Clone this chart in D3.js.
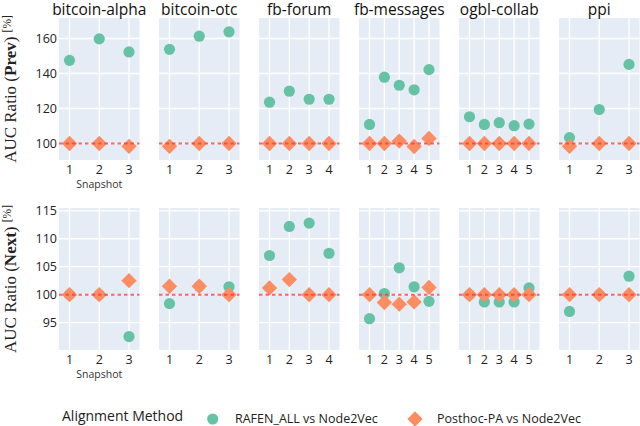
<!DOCTYPE html>
<html><head><meta charset="utf-8">
<script src="https://cdn.jsdelivr.net/npm/d3@7"></script>
<style>body{margin:0;background:#fff}</style></head>
<body><svg id="c" width="640" height="426"></svg>
<script>
const datasets = ["bitcoin-alpha","bitcoin-otc","fb-forum","fb-messages","ogbl-collab","ppi"];
const snapshotCounts = [3,3,4,5,5,3];
const prevRafen = [[147.5,159.8,152.3],[153.8,161.3,163.8],[123.6,129.9,125.3,125.3],[110.9,137.9,133.3,130.7,142.2],[115.3,110.9,111.9,110.2,111.1],[103.4,119.4,145.2]];
const prevPosthoc = [[100,100,98.4],[98.4,100,100],[100,100,100,100],[100,100,101.4,98.3,102.9],[100,100,100,100,100],[98.4,100,100]];
const nextRafen = [[100,100,92.5],[98.4,101.5,101.4],[107.0,112.2,112.8,107.4],[95.7,100.2,104.8,101.4,98.8],[100,98.7,98.7,98.7,101.2],[97.0,100,103.3]];
const nextPosthoc = [[100,100,102.5],[101.5,101.5,100],[101.2,102.7,100,100],[100,98.6,98.3,98.7,101.3],[100,100,100,100,100],[100,100,100]];
const prevTicks = [100,120,140,160];
const nextTicks = [95,100,105,110,115];
const prevDomain = [90.6,171.7];
const nextDomain = [90.1,115.5];
const rowNames = ["Prev","Next"];
const seriesNames = ["RAFEN_ALL vs Node2Vec","Posthoc-PA vs Node2Vec"];
const legendTitle = "Alignment Method";
const xLabel = "Snapshot";

const svg = d3.select("#c");
const SANS = "'Open Sans', sans-serif";
const green = "#66c2a5", orange = "#fc8d62", bg = "#e5ecf6";
const panelW = 80.5, panelH = 142, pitch = 100, left0 = 59;
const rowTops = [18, 208];
const rows = [
  {rafen: prevRafen, posthoc: prevPosthoc, ticks: prevTicks, domain: prevDomain},
  {rafen: nextRafen, posthoc: nextPosthoc, ticks: nextTicks, domain: nextDomain}
];
const diamond = d3.symbol().type(d3.symbolDiamond2).size(150);

rows.forEach((row, ri) => {
  const top = rowTops[ri];
  const y = d3.scaleLinear().domain(row.domain).range([top + panelH, top]);
  datasets.forEach((name, di) => {
    const left = left0 + di * pitch;
    const n = snapshotCounts[di];
    const xs = d3.range(1, n + 1);
    const x = d3.scaleLinear().domain([1, n]).range([left + 10.5, left + panelW - 10.5]);
    const g = svg.append("g");
    g.append("rect").attr("x", left).attr("y", top).attr("width", panelW).attr("height", panelH).attr("fill", bg);
    g.selectAll(".hg").data(row.ticks).join("line")
      .attr("x1", left).attr("x2", left + panelW)
      .attr("y1", d => y(d)).attr("y2", d => y(d))
      .attr("stroke", "#fff").attr("stroke-width", 1.3);
    g.selectAll(".vg").data(xs).join("line")
      .attr("x1", d => x(d)).attr("x2", d => x(d))
      .attr("y1", top).attr("y2", top + panelH)
      .attr("stroke", "#fff").attr("stroke-width", 1.3);
    g.selectAll(".xt").data(xs).join("text")
      .attr("x", d => x(d)).attr("y", top + panelH + 14)
      .attr("text-anchor", "middle").attr("font-family", SANS).attr("font-size", 12.5)
      .attr("fill", "#222").text(d => d);
    if (di === 0) {
      g.selectAll(".yt").data(row.ticks).join("text")
        .attr("x", left - 2).attr("y", d => y(d)).attr("dy", "0.35em")
        .attr("text-anchor", "end").attr("font-family", SANS).attr("font-size", 12.5)
        .attr("fill", "#222").text(d => d);
      g.append("text").attr("x", x(2)).attr("y", top + panelH + 28)
        .attr("text-anchor", "middle").attr("font-family", SANS).attr("font-size", 10.5)
        .attr("fill", "#333").text(xLabel);
    }
    if (ri === 0) {
      g.append("text").attr("x", left + panelW / 2).attr("y", 15)
        .attr("text-anchor", "middle").attr("font-family", SANS).attr("font-size", 15.5)
        .attr("fill", "#111").text(name);
    }
    g.selectAll(".r").data(row.rafen[di]).join("circle")
      .attr("cx", (d, i) => x(i + 1)).attr("cy", d => y(d)).attr("r", 5.6).attr("fill", green);
    g.selectAll(".p").data(row.posthoc[di]).join("path")
      .attr("d", diamond).attr("transform", (d, i) => `translate(${x(i + 1)},${y(d)})`).attr("fill", orange);
    g.append("line").attr("x1", left).attr("x2", left + panelW)
      .attr("y1", y(100)).attr("y2", y(100))
      .attr("stroke", "rgba(255,60,60,0.8)").attr("stroke-width", 2).attr("stroke-dasharray", "3.5,3");
  });
  const cy = top + panelH / 2;
  const t = svg.append("text").attr("transform", `translate(16,${cy}) rotate(-90)`)
    .attr("text-anchor", "middle").attr("font-family", "'Liberation Serif', serif").attr("font-size", 17).attr("fill", "#222");
  t.append("tspan").text("AUC Ratio (");
  t.append("tspan").attr("font-weight", "bold").text(rowNames[ri]);
  t.append("tspan").text(") ");
  t.append("tspan").attr("font-size", 11.5).attr("dy", -5).text("[%]");
});

const lg = svg.append("g").attr("font-family", SANS).attr("fill", "#222");
lg.append("text").attr("x", 62).attr("y", 421).attr("font-size", 14).text(legendTitle);
lg.append("circle").attr("cx", 212.7).attr("cy", 419).attr("r", 5.6).attr("fill", green);
lg.append("text").attr("x", 235).attr("y", 423).attr("font-size", 12.5).text(seriesNames[0]);
lg.append("path").attr("d", diamond).attr("transform", "translate(415,419)").attr("fill", orange);
lg.append("text").attr("x", 437).attr("y", 423).attr("font-size", 12.5).text(seriesNames[1]);
</script></body></html>
